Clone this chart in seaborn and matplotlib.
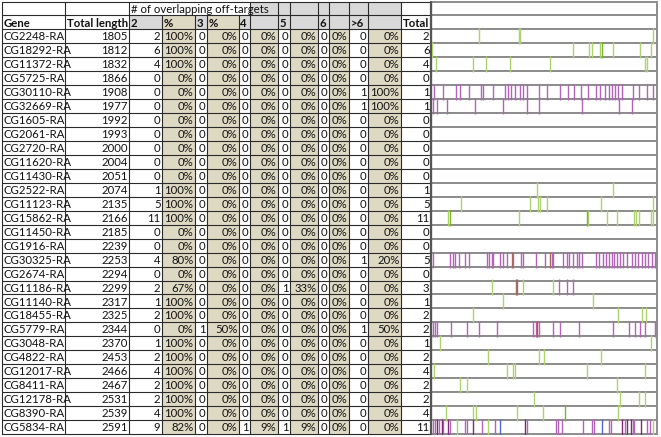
import numpy as np
import pandas as pd
import matplotlib
matplotlib.use("Agg")
import matplotlib.pyplot as plt
from matplotlib.patches import Rectangle
import seaborn as sns

# ---------------- data ----------------
genes = ["CG2248-RA", "CG18292-RA", "CG11372-RA", "CG5725-RA", "CG30110-RA", "CG32669-RA",
         "CG1605-RA", "CG2061-RA", "CG2720-RA", "CG11620-RA", "CG11430-RA", "CG2522-RA",
         "CG11123-RA", "CG15862-RA", "CG11450-RA", "CG1916-RA", "CG30325-RA", "CG2674-RA",
         "CG11186-RA", "CG11140-RA", "CG18455-RA", "CG5779-RA", "CG3048-RA", "CG4822-RA",
         "CG12017-RA", "CG8411-RA", "CG12178-RA", "CG8390-RA", "CG5834-RA"]
total_length = [1805, 1812, 1832, 1866, 1908, 1977, 1992, 1993, 2000, 2004, 2051, 2074,
                2135, 2166, 2185, 2239, 2253, 2294, 2299, 2317, 2325, 2344, 2370, 2453,
                2466, 2467, 2531, 2539, 2591]
n2 = [2, 6, 4, 0, 0, 0, 0, 0, 0, 0, 0, 1, 5, 11, 0, 0, 4, 0, 2, 1, 2, 0, 1, 2, 4, 2, 2, 4, 9]
n3 = [0]*21 + [1] + [0]*7
n4 = [0]*28 + [1]
n5 = [0]*18 + [1] + [0]*9 + [1]
n6 = [0]*29
n7 = [0, 0, 0, 0, 1, 1, 0, 0, 0, 0, 0, 0, 0, 0, 0, 0, 1, 0, 0, 0, 0, 1, 0, 0, 0, 0, 0, 0, 0]
totals = [2, 6, 4, 0, 1, 1, 0, 0, 0, 0, 0, 1, 5, 11, 0, 0, 5, 0, 3, 1, 2, 2, 1, 2, 4, 2, 2, 4, 11]
count_headers = ["2", "3", "4", "5", "6", ">6"]
pct_headers = ["%", "%", "", "", "", ""]

# relative positions (0-1 along transcript) of overlapping off-target hits
strip_pos = [
    [0.211, 0.387, 0.394, 0.985],
    [0.002, 0.628, 0.702, 0.714, 0.752, 0.757, 0.807, 0.929, 0.979],
    [0.018, 0.181, 0.239, 0.349, 0.525, 0.949, 0.962],
    [],
    [0.009, 0.048, 0.106, 0.125, 0.167, 0.217, 0.229, 0.273, 0.327, 0.339, 0.353, 0.371,
     0.393, 0.408, 0.423, 0.479, 0.515, 0.571, 0.607, 0.634, 0.665, 0.695, 0.731, 0.750,
     0.772, 0.792, 0.804, 0.817, 0.832, 0.850, 0.899, 0.925, 0.960, 0.985],
    [0.006, 0.021, 0.068, 0.192, 0.316, 0.423, 0.479, 0.668, 0.836, 0.892],
    [], [], [], [], [],
    [0.470, 0.807],
    [0.128, 0.438, 0.475, 0.482, 0.512, 0.754, 0.987],
    [0.073, 0.080, 0.390, 0.693, 0.698, 0.780, 0.827, 0.902, 0.911, 0.923, 0.976, 0.985],
    [], [],
    [0.003, 0.080, 0.092, 0.103, 0.122, 0.147, 0.167, 0.244, 0.256, 0.267, 0.274, 0.304,
     0.318, 0.333, 0.356, 0.363, 0.396, 0.408, 0.464, 0.504, 0.527, 0.534, 0.542, 0.583,
     0.601, 0.613, 0.631, 0.646, 0.658, 0.668, 0.732, 0.747, 0.762, 0.777, 0.792, 0.802,
     0.813, 0.827, 0.839, 0.851, 0.872, 0.892, 0.906, 0.921, 0.936, 0.951, 0.966, 0.981, 0.997],
    [],
    [0.266, 0.375, 0.381, 0.405, 0.542, 0.568, 0.601, 0.628],
    [0.318, 0.720],
    [0.184, 0.832, 0.939, 0.954],
    [0.006, 0.013, 0.021, 0.083, 0.158, 0.211, 0.289, 0.450, 0.464, 0.470, 0.479, 0.539,
     0.571, 0.658, 0.810, 0.881, 0.906, 0.929, 0.951, 0.996],
    [0.036, 0.978],
    [0.251, 0.479, 0.500, 0.753],
    [0.009, 0.333, 0.363, 0.371, 0.691, 0.951],
    [0.125, 0.155, 0.825],
    [0.454, 0.839, 0.925, 0.951],
    [0.063, 0.182, 0.196, 0.378, 0.494, 0.594, 0.829],
    [0.003, 0.013, 0.024, 0.033, 0.043, 0.050, 0.073, 0.080, 0.110, 0.147, 0.155, 0.182,
     0.222, 0.251, 0.281, 0.304, 0.415, 0.423, 0.554, 0.564, 0.579, 0.673, 0.713, 0.723,
     0.758, 0.792, 0.798, 0.847, 0.862, 0.869, 0.888, 0.896, 0.902, 0.933, 0.958, 0.973, 0.985],
]
# colour code per hit: g green, G dark green, p purple, d dark purple, b blue, r red, n brown
strip_kind = [
    "g", "gggggGggg", "g", "", "p", "p", "", "", "", "", "", "g", "g", "gGgGgggggggg", "", "",
    "ppppppppppppppnpppppnpppppppppppppppppppppppppppp", "", "gnnggppp", "g", "g",
    "pppppppppr", "g", "g", "g", "g", "g", "gggggGg",
    "ppdpdpdpgppdpgpbdpppppppbppdpddppdppg",
]
kind_colors = {"g": "#add36f", "G": "#7cb82a", "p": "#b265b8", "d": "#7d2a74",
               "b": "#5566cc", "r": "#d8423c", "n": "#a26a5c"}

# ---------------- style ----------------
sns.set_theme(style="white")
plt.rcParams["font.family"] = ["Lato", "DejaVu Sans"]

W, H = 661, 437
fig = plt.figure(figsize=(W / 100, H / 100), dpi=100)
ax = fig.add_axes([0, 0, 1, 1])
ax.set_xlim(0, W)
ax.set_ylim(H, 0)
ax.axis("off")

TOP, RH = 1.5, 13.95
X = [2, 65, 129, 162, 195, 207, 239, 250, 278, 290, 318, 329, 349, 368, 401, 431, 657]
NROW = 2 + len(genes)
GRAY, TAN = "#d9d9d9", "#ddd9c3"
FS = 8.2

def y0(r):
    return TOP + r * RH

def cell(c0, c1, r, fc):
    ax.add_patch(Rectangle((X[c0], y0(r)), X[c1] - X[c0], RH, facecolor=fc,
                           edgecolor="none", zorder=1))

def txt(c, r, s, ha="right", bold=False, pad=2.0, x=None):
    if x is None:
        x = X[c + 1] - pad if ha == "right" else X[c] + pad
    ax.text(x, y0(r) + RH / 2 + 0.6, s, ha=ha, va="center", fontsize=FS,
            fontweight="bold" if bold else "normal", color="#111111", zorder=5)

# backgrounds
for c in range(7, 14):
    cell(c, c + 1, 0, GRAY)
for c in range(2, 14):
    cell(c, c + 1, 1, TAN if c in (3, 5) else GRAY)
for i in range(len(genes)):
    r = i + 2
    for c in (3, 5, 7, 9, 11, 13):
        cell(c, c + 1, r, TAN)

# strip boxes
for r in range(NROW):
    ax.add_patch(Rectangle((X[15], y0(r)), X[16] - X[15], RH, facecolor="white",
                           edgecolor="#8c8c8c", lw=1.4, zorder=2))

# grid lines (table part)
lc, lw = "#2a2a2a", 0.8
for r in range(NROW + 1):
    ax.plot([X[0], X[15]], [y0(r), y0(r)], color=lc, lw=lw, zorder=3)
for ci, xv in enumerate(X[:16]):
    if 3 <= ci <= 6:
        ax.plot([xv, xv], [y0(1), y0(NROW)], color=lc, lw=lw, zorder=3)
    else:
        ax.plot([xv, xv], [y0(0), y0(NROW)], color=lc, lw=lw, zorder=3)
ax.plot([X[15], X[15]], [y0(0), y0(NROW)], color="#555555", lw=1.6, zorder=4)

# header texts
txt(2, 0, "# of overlapping off-targets", ha="left", pad=2)
txt(0, 1, "Gene", ha="left", bold=True)
txt(1, 1, "Total length", ha="left", bold=True)
for k in range(6):
    txt(2 + 2 * k, 1, count_headers[k], ha="left", bold=True, pad=1.5)
    if pct_headers[k]:
        txt(3 + 2 * k, 1, pct_headers[k], ha="left", bold=True, pad=1.5)
txt(14, 1, "Total", ha="left", bold=True)

# data texts
counts = [n2, n3, n4, n5, n6, n7]
for i, g in enumerate(genes):
    r = i + 2
    txt(0, r, g, ha="left", pad=1.5)
    txt(1, r, str(total_length[i]), pad=1.5)
    for k in range(6):
        v = counts[k][i]
        pct = int(round(100 * v / totals[i])) if totals[i] else 0
        txt(2 + 2 * k, r, str(v), pad=1.5)
        txt(3 + 2 * k, r, f"{pct}%", pad=1.5)
    txt(14, r, str(totals[i]), pad=1.5)

# ---------------- barcode strips (seaborn) ----------------
recs = []
for i, (pos, kinds) in enumerate(zip(strip_pos, strip_kind)):
    default = kinds[0] if kinds else "g"
    kinds = kinds.ljust(len(pos), default)
    for p, k in zip(pos, kinds):
        recs.append({"pos": p, "row": i + 2 + 0.5, "kind": k})
df = pd.DataFrame(recs)

sx0, sx1 = X[15] + 1, X[16] - 1
sax = fig.add_axes([sx0 / W, 1 - (TOP + NROW * RH) / H, (sx1 - sx0) / W, NROW * RH / H])
sax.set_xlim(0, 1)
sax.set_ylim(NROW, 0)
sax.axis("off")
sax.patch.set_alpha(0)
for k, col in kind_colors.items():
    sub = df[df["kind"] == k]
    if len(sub):
        sns.scatterplot(data=sub, x="pos", y="row", marker="|", s=125, color=col,
                        linewidth=1.0, ax=sax, legend=False, zorder=3)
sax.set_xlabel("")
sax.set_ylabel("")

fig.savefig("out.png", dpi=100)
